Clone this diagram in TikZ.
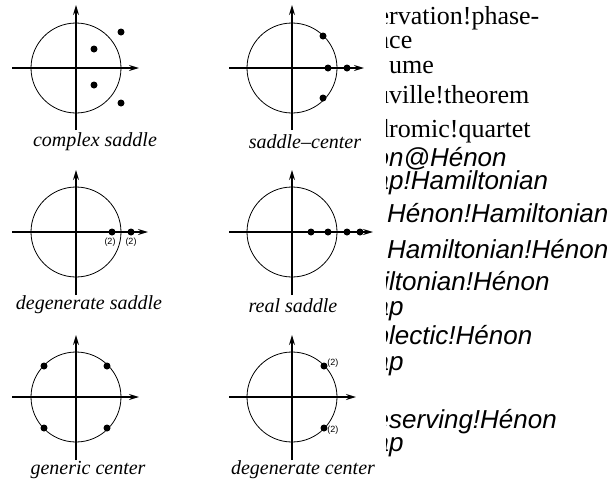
\documentclass[tikz,border=0pt]{standalone}
\usepackage{fontspec}
\setmainfont{Liberation Serif}
\setsansfont{Liberation Sans}
\usetikzlibrary{positioning, arrows.meta}

\begin{document}
\begin{tikzpicture}[
    x=1pt, y=-1pt,
    % Define styles
    unitcircle/.style={line width=0.8pt},
    axis/.style={line width=1.4pt, -{Stealth[length=10pt, width=6pt]}},
    eig/.style={circle, fill, inner sep=0pt, minimum size=7pt},
    mult/.style={font=\sffamily\fontsize{9}{9}\selectfont, inner sep=0.5pt},
    caption/.style={font=\fontsize{20}{20}\selectfont\itshape},
    idxrm/.style={anchor=base west, inner sep=0pt, font=\fontsize{26}{26}\selectfont},
    idxsf/.style={anchor=base west, inner sep=0pt, font=\sffamily\itshape\fontsize{26}{26}\selectfont}
]
    \useasboundingbox (0,0) rectangle (614,480);

    % --- COMPLEX SADDLE ---
    \begin{scope}[shift={(76,68)}]
        \draw[unitcircle] (0,0) circle (45pt);
        \draw[axis] (-64,0) -- (63,0);
        \draw[axis] (0,62) -- (0,-63);
        \node[eig] (cs_a) at (18,-19) {};
        \node[eig] (cs_b) at (18,17) {};
        \node[eig] (cs_c) at (45,-36) {};
        \node[eig] (cs_d) at (45,35) {};
        \node[caption] (cs_label) at (19,74) {complex saddle};
    \end{scope}

    % --- SADDLE-CENTER ---
    \begin{scope}[shift={(292,68)}]
        \draw[unitcircle] (0,0) circle (45pt);
        \draw[axis] (-63,0) -- (72,0);
        \draw[axis] (0,62) -- (0,-63);
        \node[eig] (sc_a) at (31,-32) {};
        \node[eig] (sc_b) at (31,30) {};
        \node[eig] (sc_c) at (36,0) {};
        \node[eig] (sc_d) at (55,0) {};
        \node[caption] (sc_label) at (13,74) {saddle\textendash center};
    \end{scope}

    % --- DEGENERATE SADDLE ---
    \begin{scope}[shift={(76,232)}]
        \draw[unitcircle] (0,0) circle (45pt);
        \draw[axis] (-64,0) -- (72,0);
        \draw[axis] (0,63) -- (0,-62);
        \node[eig] (ds_a) at (36,0) {};
        \node[eig] (ds_b) at (55,0) {};
        \node[mult, below=2pt of ds_a, xshift=-2pt] (ds_ma) {(2)};
        \node[mult, below=2pt of ds_b] (ds_mb) {(2)};
        \node[caption] (ds_label) at (13,73) {degenerate saddle};
    \end{scope}

    % --- REAL SADDLE ---
    \begin{scope}[shift={(292,232)}]
        \draw[unitcircle] (0,0) circle (45pt);
        \draw[axis] (-63,0) -- (81,0);
        \draw[axis] (0,63) -- (0,-62);
        \node[eig] (rs_a) at (19,0) {};
        \node[eig] (rs_b) at (36,0) {};
        \node[eig] (rs_c) at (55,0) {};
        \node[eig] (rs_d) at (68,0) {};
        \node[caption] (rs_label) at (1,74) {real saddle};
    \end{scope}

    % --- GENERIC CENTER ---
    \begin{scope}[shift={(76,397)}]
        \draw[unitcircle] (0,0) circle (45pt);
        \draw[axis] (-64,0) -- (63,0);
        \draw[axis] (0,63) -- (0,-62);
        \node[eig] (gc_a) at (-32,-31) {};
        \node[eig] (gc_b) at (31,-31) {};
        \node[eig] (gc_c) at (-32,31) {};
        \node[eig] (gc_d) at (31,31) {};
        \node[caption] (gc_label) at (12,73) {generic center};
    \end{scope}

    % --- DEGENERATE CENTER ---
    \begin{scope}[shift={(292,397)}]
        \draw[unitcircle] (0,0) circle (45pt);
        \draw[axis] (-63,0) -- (64,0);
        \draw[axis] (0,63) -- (0,-62);
        \node[eig] (dc_a) at (32,-31) {};
        \node[eig] (dc_b) at (32,31) {};
        \node[mult, above right=-5pt and 0pt of dc_a] (dc_ma) {(2)};
        \node[mult, below right=-5pt and 0pt of dc_b] (dc_mb) {(2)};
        \node[caption] (dc_label) at (11,73) {degenerate center};
    \end{scope}

    % --- CLIPPED INDEX TEXT ---
    \begin{scope}
        \clip (386,0) rectangle (614,480);
        \node[idxrm] (ix_a) at (389,24) {\llap{e}rvation!phase-};
        \node[idxrm] (ix_b) at (389,48) {\llap{a}ce};
        \node[idxrm] (ix_c) at (389,73) {ume};
        \node[idxrm] (ix_d) at (389,103) {\llap{u}ville!theorem};
        \node[idxrm] (ix_e) at (389,137) {\llap{d}romic!quartet};
        \node[idxsf] (ix_f) at (389,166) {\llap{o}n@Hénon};
        \node[idxsf] (ix_g) at (389,189) {\llap{a}p!Hamiltonian};
        \node[idxsf] (ix_h) at (387,222) {Hénon!Hamiltonian};
        \node[idxsf] (ix_i) at (387,258) {Hamiltonian!Hénon};
        \node[idxsf] (ix_j) at (389,290) {\llap{i}ltonian!Hénon};
        \node[idxsf] (ix_k) at (389,315) {\llap{a}p};
        \node[idxsf] (ix_l) at (389,344) {\llap{p}lectic!Hénon};
        \node[idxsf] (ix_m) at (389,370) {\llap{a}p};
        \node[idxsf] (ix_n) at (389,428) {\llap{e}serving!Hénon};
        \node[idxsf] (ix_o) at (389,451) {\llap{a}p};
    \end{scope}

\end{tikzpicture}
\end{document}
